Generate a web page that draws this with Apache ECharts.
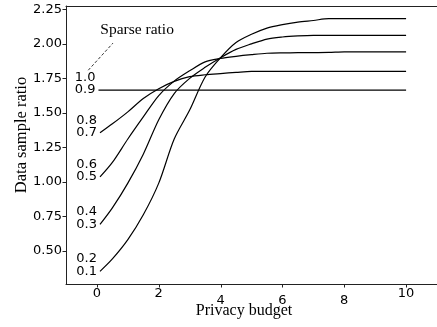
<!DOCTYPE html>
<html>
<head>
<meta charset="utf-8">
<script src="https://cdn.jsdelivr.net/npm/echarts@6/dist/echarts.min.js"></script>
<style>html,body{margin:0;padding:0;background:#fff}#c{width:437px;height:327px}</style>
</head>
<body>
<div id="c"></div>
<script>
// ---- data ----
const budget = [0.1, 0.5, 1, 1.5, 2, 2.5, 3, 3.5, 4, 4.5, 5, 5.5, 6, 6.5, 7, 7.5, 8, 9, 10];
const flatBudget = [0.05, 10];
const ratio09 = [1.665, 1.665];
const ratio07 = [1.355, 1.42, 1.507, 1.604, 1.675, 1.728, 1.762, 1.776, 1.785, 1.793, 1.80, 1.80, 1.80, 1.80, 1.80, 1.80, 1.80, 1.80, 1.80];
const ratio05 = [1.035, 1.14, 1.31, 1.47, 1.625, 1.73, 1.805, 1.87, 1.895, 1.91, 1.922, 1.932, 1.935, 1.936, 1.937, 1.938, 1.942, 1.942, 1.942];
const ratio03 = [0.69, 0.81, 0.99, 1.2, 1.45, 1.64, 1.75, 1.83, 1.9, 1.96, 2.0, 2.035, 2.05, 2.058, 2.062, 2.062, 2.062, 2.062, 2.062];
const ratio01 = [0.35, 0.44, 0.58, 0.76, 0.99, 1.31, 1.52, 1.76, 1.9, 2.01, 2.07, 2.115, 2.14, 2.158, 2.17, 2.183, 2.183, 2.183, 2.183];
const pairLabels = [['1.0', '0.9'], ['0.8', '0.7'], ['0.6', '0.5'], ['0.4', '0.3'], ['0.2', '0.1']];
const xTicks = [0, 2, 4, 6, 8, 10];
const yTicks = [0.5, 0.75, 1.0, 1.25, 1.5, 1.75, 2.0, 2.25];
const xName = 'Privacy budget';
const yName = 'Data sample ratio';
const noteText = 'Sparse ratio';

const sans = 'DejaVu Sans';
const serif = 'Liberation Serif';

function mkSeries(xs, ys, labels) {
  const data = xs.map((x, i) => {
    if (i === 0) {
      return {
        value: [x, ys[i]],
        label: {
          show: true,
          position: 'left',
          distance: 3,
          offset: [0, -6.25],
          formatter: labels[0] + '\n' + labels[1],
          fontFamily: sans,
          fontSize: 13,
          lineHeight: 12.5,
          color: '#000',
          align: 'right'
        }
      };
    }
    return [x, ys[i]];
  });
  return {
    type: 'line',
    data: data,
    symbol: 'circle',
    symbolSize: 0.01,
    showSymbol: true,
    itemStyle: { color: 'rgba(0,0,0,0)' },
    smooth: 0.3,
    lineStyle: { color: '#000', width: 1.2 },
    label: { show: false },
    emphasis: { disabled: true },
    silent: true,
    z: 3
  };
}

const series = [
  mkSeries(flatBudget, ratio09, pairLabels[0]),
  mkSeries(budget, ratio07, pairLabels[1]),
  mkSeries(budget, ratio05, pairLabels[2]),
  mkSeries(budget, ratio03, pairLabels[3]),
  mkSeries(budget, ratio01, pairLabels[4])
];
series[0].markLine = {
  silent: true,
  symbol: 'none',
  label: { show: false },
  lineStyle: { color: '#000', type: [3, 2], width: 0.8 },
  data: [[{ coord: [-0.28, 1.809] }, { coord: [0.52, 2.006] }]]
};

const chart = echarts.init(document.getElementById('c'), null, { renderer: 'canvas' });
const axisColor = '#222';
const axisLineStyle = { color: axisColor, width: 1 };
chart.setOption({
  animation: false,
  backgroundColor: '#fff',
  grid: { left: 66, top: 6, width: 374, height: 278, containLabel: false },
  xAxis: [{
    type: 'value', min: -1, max: 11,
    axisLine: { show: true, onZero: false, lineStyle: axisLineStyle },
    axisTick: { show: false },
    axisLabel: {
      show: true, customValues: xTicks, margin: 3,
      fontFamily: sans, fontSize: 13, color: '#000',
      formatter: v => (v === 4 || v === 6 || v === 8) ? '{lo|' + v + '}' : '{hi|' + v + '}',
      rich: {
        lo: { fontFamily: sans, fontSize: 13, color: '#000', padding: [7, 0, 0, 0] },
        hi: { fontFamily: sans, fontSize: 13, color: '#000' }
      }
    },
    splitLine: { show: false }
  }, {
    type: 'value', min: -1, max: 11, position: 'top',
    axisLine: { show: true, onZero: false, lineStyle: axisLineStyle },
    axisTick: { show: false }, axisLabel: { show: false }, splitLine: { show: false }
  }],
  yAxis: {
    type: 'value', min: 0.258, max: 2.275,
    axisLine: { show: true, onZero: false, lineStyle: axisLineStyle },
    axisTick: { show: false },
    axisLabel: {
      show: true, customValues: yTicks, margin: 4,
      fontFamily: sans, fontSize: 13, color: '#000',
      formatter: v => v.toFixed(2)
    },
    splitLine: { show: false }
  },
  series: series
});

function place() {
  const g = [];
  const tickLen = 3.5;
  // tick marks positioned through the chart's own scales
  xTicks.forEach(v => {
    const p = chart.convertToPixel({ xAxisIndex: 0, yAxisIndex: 0 }, [v, 0.258]);
    const px = Math.round(p[0]) + 0.5;
    g.push({ type: 'line', silent: true, shape: { x1: px, y1: p[1], x2: px, y2: p[1] + tickLen }, style: { stroke: axisColor, lineWidth: 1 } });
  });
  yTicks.forEach(v => {
    const p = chart.convertToPixel({ xAxisIndex: 0, yAxisIndex: 0 }, [-1, v]);
    const py = Math.round(p[1]) + 0.5;
    g.push({ type: 'line', silent: true, shape: { x1: p[0] - tickLen, y1: py, x2: p[0], y2: py }, style: { stroke: axisColor, lineWidth: 1 } });
  });
  const n = chart.convertToPixel({ xAxisIndex: 0, yAxisIndex: 0 }, [1.3, 2.105]);
  g.push(
    {
      type: 'text', silent: true, x: 244, y: 311,
      style: { text: xName, fontFamily: serif, fontSize: 16, fill: '#000', align: 'center', verticalAlign: 'middle' }
    },
    {
      type: 'text', silent: true, x: 21.5, y: 135, rotation: Math.PI / 2,
      style: { text: yName, fontFamily: serif, fontSize: 16.5, fill: '#000', align: 'center', verticalAlign: 'middle' }
    },
    {
      type: 'text', silent: true, x: n[0], y: n[1],
      style: { text: noteText, fontFamily: serif, fontSize: 15.5, fill: '#000', align: 'center', verticalAlign: 'middle' }
    }
  );
  chart.setOption({ graphic: g });
}
place();
</script>
</body>
</html>
